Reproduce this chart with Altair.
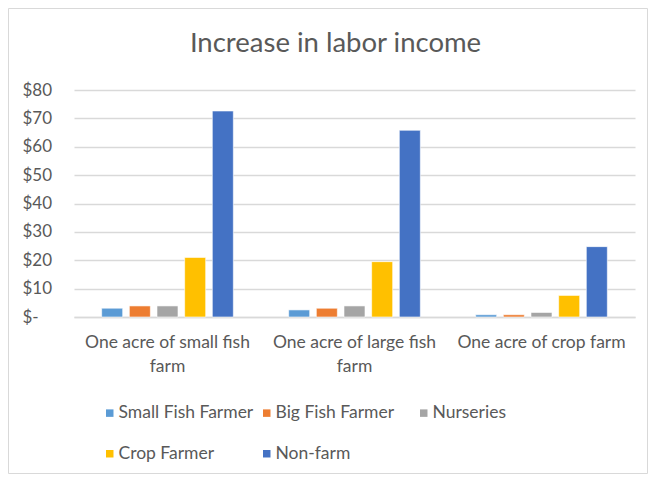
import altair as alt
import pandas as pd

groups = ["One acre of small fish farm", "One acre of large fish farm", "One acre of crop farm"]
group_lines = [["One acre of small fish", "farm"], ["One acre of large fish", "farm"], ["One acre of crop farm"]]
series = ["Small Fish Farmer", "Big Fish Farmer", "Nurseries", "Crop Farmer", "Non-farm"]
small_fish = [3.1, 2.5, 0.8]
big_fish = [3.9, 3.1, 0.8]
nurseries = [3.9, 3.9, 1.6]
crop_farmer = [21.0, 19.5, 7.6]
non_farm = [72.6, 65.8, 24.8]
colors = ["#5B9BD5", "#ED7D31", "#A5A5A5", "#FFC000", "#4472C4"]
y_ticks = [0, 10, 20, 30, 40, 50, 60, 70, 80]
title_text = ["Increase in labor income"]

rows = []
for s, vals in zip(series, [small_fish, big_fish, nurseries, crop_farmer, non_farm]):
    for g, v in zip(groups, vals):
        rows.append({"group": g, "series": s, "value": v})
df = pd.DataFrame(rows)

FONT = "Lato"
TXT = "#595959"
GRID = "#d9d9d9"

W, H = 561, 227
PL, PT = 66, 82
TOTW, TOTH = 640, 466
PR, PB = TOTW - PL - W, TOTH - PT - H

label_expr = ""
for g, lines in zip(groups, group_lines):
    arr = "[" + ",".join("'" + l + "'" for l in lines) + "]"
    label_expr += f"datum.value == '{g}' ? {arr} : "
label_expr += "datum.value"

bars = alt.Chart(df).mark_bar(stroke="white", strokeWidth=0.6).encode(
    x=alt.X("group:N", sort=groups,
            scale=alt.Scale(paddingInner=0, paddingOuter=0),
            axis=alt.Axis(title=None, labelAngle=0, labelExpr=label_expr,
                          labelFont=FONT, labelFontSize=17.5, labelColor=TXT,
                          labelLineHeight=24, labelPadding=16, ticks=False,
                          domainColor=GRID, domainWidth=1.5)),
    xOffset=alt.XOffset("series:N", sort=series,
                        scale=alt.Scale(paddingInner=0.24, paddingOuter=1.0)),
    y=alt.Y("value:Q", scale=alt.Scale(domain=[0, 80]),
            axis=alt.Axis(title=None, values=y_ticks,
                          labelExpr="datum.value == 0 ? '\u00a0$-' : '$' + datum.value",
                          labelAlign="left", labelPadding=52,
                          labelFont=FONT, labelFontSize=17, labelColor=TXT,
                          domain=False, ticks=False,
                          gridColor=GRID, gridWidth=1.5)),
    color=alt.Color("series:N", sort=series,
                    scale=alt.Scale(domain=series, range=colors),
                    legend=alt.Legend(title=None, orient="none", legendX=27, legendY=314,
                                      direction="horizontal", columns=3, gridAlign="all",
                                      columnPadding=4, rowPadding=22,
                                      symbolType="square", symbolSize=56,
                                      symbolStrokeWidth=0, labelOffset=0,
                                      labelFont=FONT, labelFontSize=17.5, labelColor=TXT,
                                      labelLimit=300)),
)

title = alt.Chart(pd.DataFrame({"t": title_text})).mark_text(
    font=FONT, fontSize=27.5, color=TXT, align="center", baseline="alphabetic"
).encode(
    text="t:N", x=alt.value(W / 2 - 19), y=alt.value(-38),
)

frame = alt.Chart(pd.DataFrame({"k": [0]})).mark_rect(
    fill=None, stroke=GRID, strokeWidth=1, clip=False
).encode(
    x=alt.value(-PL + 0.5), x2=alt.value(W + PR - 0.5),
    y=alt.value(-PT + 0.5), y2=alt.value(H + PB - 0.5),
)

chart = alt.layer(bars, title, frame).properties(
    width=W, height=H,
    autosize=alt.AutoSizeParams(type="none"),
    padding={"left": PL, "top": PT, "right": PR, "bottom": PB},
).configure_view(stroke=None)

chart.save("out.html", embed_options={"renderer": "svg", "actions": False})
